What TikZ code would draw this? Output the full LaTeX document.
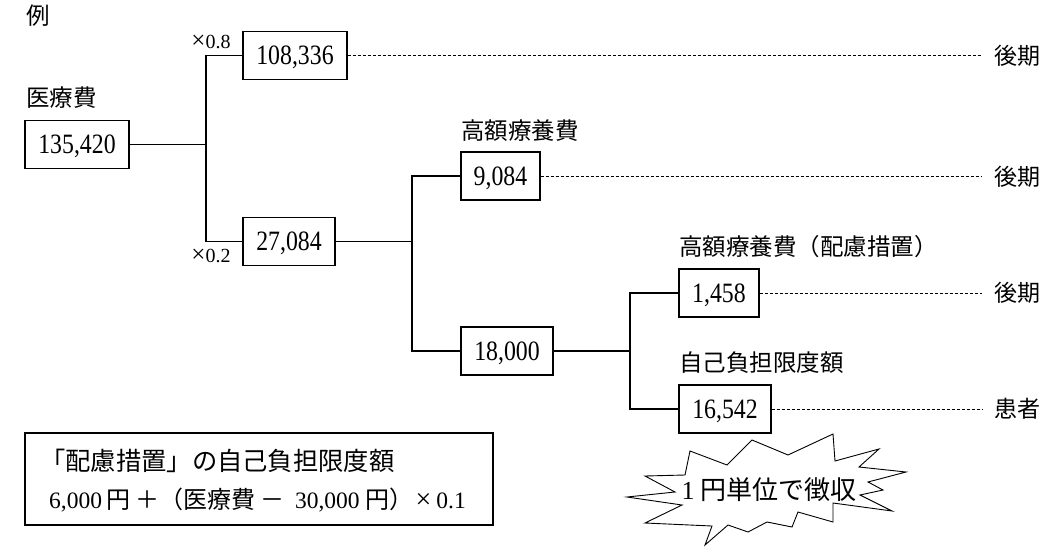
\documentclass[tikz,border=0pt]{standalone}
\usepackage{fontspec}
\setmainfont{Liberation Serif}
\newfontfamily\jp{Noto Sans CJK JP}
\newfontfamily\nnum[FakeStretch=0.85]{Liberation Serif}
\newcommand\setfs[1]{\fontsize{#1}{#1}\selectfont}
\begin{document}
\begin{tikzpicture}[x=1pt,y=-1pt,
  numbox/.style={draw, line width=1.1pt, minimum height=48pt, inner sep=0pt,
    font=\nnum\setfs{28}, text height=18.5pt, text depth=0pt},
  lbl/.style={inner sep=0pt, anchor=west, font=\jp\setfs{23.5}},
  tail/.style={inner xsep=12pt, inner ysep=0pt, anchor=west, font=\jp\setfs{23}},
  link/.style={line width=1.1pt},
  dashline/.style={line width=0.8pt, dash pattern=on 3pt off 2pt},
  mult/.style={inner sep=0pt, font=\setfs{20}}]
\useasboundingbox (0,0) rectangle (1063,549);
% boxes
\node[numbox, minimum width=104pt] (b1) at (77,144.5) {135,420};
\node[numbox, minimum width=104pt] (b2) at (295,55.5) {108,336};
\node[numbox, minimum width=92pt] (b3) at (289,241.5) {27,084};
\node[numbox, minimum width=79pt] (b4) at (500.5,176) {9,084};
\node[numbox, minimum width=92pt] (b5) at (507,351) {18,000};
\node[numbox, minimum width=80pt] (b6) at (719,293) {1,458};
\node[numbox, minimum width=92pt] (b7) at (725,409) {16,542};
% junctions
\coordinate (j1) at (206,144.5);
\coordinate (j2) at (412,241.5);
\coordinate (j3) at (630,351);
\draw[link] (b1.east) -- (j1);
\draw[link] (b2.west) -- (b2.west -| j1) -- (b3.west -| j1) -- (b3.west);
\draw[link] (b3.east) -- (j2);
\draw[link] (b4.west) -- (b4.west -| j2) -- (b5.west -| j2) -- (b5.west);
\draw[link] (b5.east) -- (j3);
\draw[link] (b6.west) -- (b6.west -| j3) -- (b7.west -| j3) -- (b7.west);
% tails
\node[tail] (t1) at (982,56) {後期};
\node[tail] (t2) at (982,177) {後期};
\node[tail] (t3) at (982,293) {後期};
\node[tail] (t4) at (982,409) {患者};
\draw[dashline] (b2.east) -- (b2.east -| t1.west);
\draw[dashline] (b4.east) -- (b4.east -| t2.west);
\draw[dashline] (b6.east) -- (b6.east -| t3.west);
\draw[dashline] (b7.east) -- (b7.east -| t4.west);
% multipliers
\node[mult] (m1) at (211,42) {{\setfs{25}×}0.8};
\node[mult] (m2) at (211,256) {{\setfs{25}×}0.2};
% labels
\node[lbl] (l0) at (26,16) {例};
\node[lbl] (l1) at (26,98) {医療費};
\node[lbl] (l2) at (461,131) {高額療養費};
\node[lbl] (l3) at (679,247) {高額療養費（配慮措置）};
\node[lbl] (l4) at (679,363) {自己負担限度額};
% note box
\node[draw, line width=1.1pt, minimum width=468pt, minimum height=92pt, inner sep=0pt] (note) at (259,479) {};
\node[anchor=west, inner sep=0pt, font=\jp\setfs{25.3}] (n1) at (40,461) {「配慮措置」の自己負担限度額};
\node[anchor=west, inner sep=0pt, font=\setfs{23.5}] (n2) at (49,500)
  {6,000\hspace{4pt}{\jp\setfs{24}円\hspace{5pt}＋（医療費\hspace{5pt}－}\hspace{11pt}30,000\hspace{6pt}{\jp\setfs{24}円）}\hspace{2pt}{\setfs{28}×}\hspace{5pt}0.1};
% starburst
\draw[line width=0.9pt, fill=white] (627,497) -- (682,505) -- (645,523) -- (712,526) -- (705,545)
  -- (728,525) -- (748,532) -- (767,522) -- (792,527) -- (798,512) -- (833,522) -- (833,503)
  -- (892,511) -- (860,495) -- (883,490) -- (868,482) -- (906,472) -- (859,467) -- (879,449)
  -- (835,461) -- (833,434) -- (788,455) -- (752,440) -- (727,465) -- (690,451) -- (685,475)
  -- (645,476) -- (675,492) -- cycle;
\node[inner sep=0pt, font=\setfs{26}] (star) at (769,490) {1\hspace{6pt}{\jp 円単位で徴収}};
\end{tikzpicture}
\end{document}
